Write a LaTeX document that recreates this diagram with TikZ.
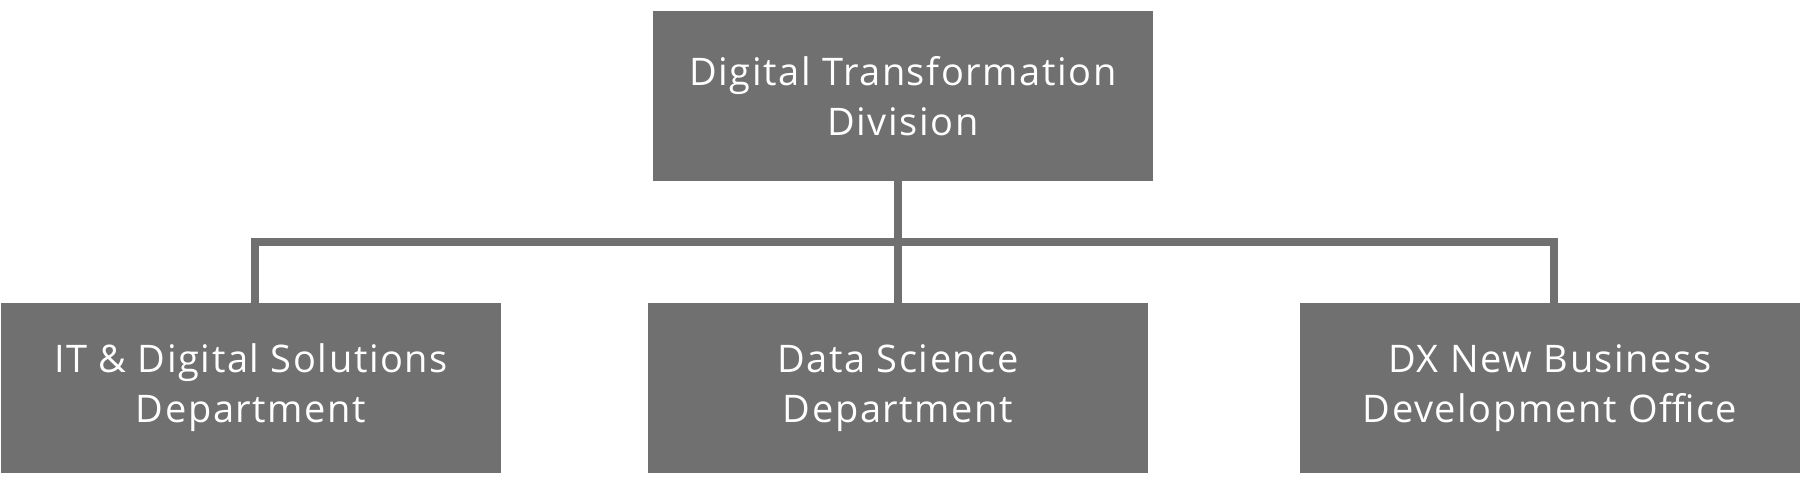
\documentclass[tikz,border=0pt]{standalone}
\usepackage{fontspec}
\setmainfont{Open Sans}[LetterSpace=4.2]
\definecolor{boxgray}{rgb}{0.44,0.44,0.44}

\begin{document}
\begin{tikzpicture}[line join=miter,x=0.5pt,y=-0.5pt,
  unit/.style={fill=boxgray,text=white,minimum width=250pt,minimum height=85pt,inner sep=0pt,align=center,font=\fontsize{19}{25}\selectfont},
  link/.style={draw=boxgray,line width=4pt}]
\useasboundingbox (0,0) rectangle (1802,484);
\node[unit] (division) at (903,96) {Digital Transformation\\Division};
\node[unit] (itdept) at (251,388) {IT \& Digital Solutions\\Department};
\node[unit] (dsdept) at (898,388) {Data Science\\Department};
\node[unit] (dxoffice) at (1550,388) {DX New Business\\Development Office};
\coordinate (bar) at (898,242);
\draw[link] (division.south -| dsdept.north) -- (dsdept.north);
\draw[link] ([xshift=2pt]itdept.north) |- (bar) -| ([xshift=2pt]dxoffice.north);
\end{tikzpicture}
\end{document}
